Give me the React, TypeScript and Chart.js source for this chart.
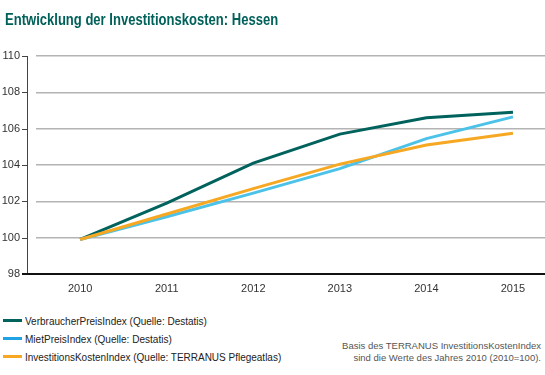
import React, { useEffect, useRef } from "react";
import { Chart, registerables } from "chart.js";

Chart.register(...registerables);

const years = [2010, 2011, 2012, 2013, 2014, 2015];
const vpi = [99.9, 101.9, 104.1, 105.7, 106.6, 106.9];
const miet = [99.9, 101.15, 102.45, 103.8, 105.45, 106.65];
const iki = [99.9, 101.3, 102.7, 104.05, 105.1, 105.75];
const yTicks = [98, 100, 102, 104, 106, 108, 110];
const seriesNames = [
  "VerbraucherPreisIndex (Quelle: Destatis)",
  "MietPreisIndex (Quelle: Destatis)",
  "InvestitionsKostenIndex (Quelle: TERRANUS Pflegeatlas)",
];
const lineColors = ["#00625C", "#4CC2E8", "#F6A823"];
const legendColors = ["#00625C", "#1FA3E3", "#F6A823"];
const FONT = "'Liberation Sans', Arial, sans-serif";

const axisPlugin = {
  id: "customAxes",
  afterDatasetsDraw(chart: any) {
    const ctx = chart.ctx;
    const y = chart.scales.y;
    const area = chart.chartArea;
    const axisX = area.left - 9;
    ctx.save();
    ctx.strokeStyle = "#444";
    ctx.lineWidth = 1;
    ctx.beginPath();
    ctx.moveTo(axisX + 0.5, y.getPixelForValue(110));
    ctx.lineTo(axisX + 0.5, y.getPixelForValue(98));
    yTicks.forEach((t) => {
      const py = Math.round(y.getPixelForValue(t)) + 0.5;
      ctx.moveTo(axisX - 5, py);
      ctx.lineTo(axisX + 0.5, py);
    });
    ctx.stroke();
    ctx.strokeStyle = "#111";
    ctx.lineWidth = 2;
    ctx.beginPath();
    const by = y.getPixelForValue(98);
    ctx.moveTo(axisX - 5, by);
    ctx.lineTo(chart.width, by);
    ctx.stroke();
    ctx.restore();
  },
};

function Fit(props: { w: number; style: any; origin: string; children: any }) {
  const r = useRef<HTMLSpanElement>(null);
  useEffect(() => {
    const el = r.current;
    if (!el) return;
    const w = el.offsetWidth;
    if (w > 0) el.style.transform = `scaleX(${props.w / w})`;
  }, []);
  return (
    <span
      ref={r}
      style={{
        display: "inline-block",
        whiteSpace: "nowrap",
        transformOrigin: props.origin,
        ...props.style,
      }}
    >
      {props.children}
    </span>
  );
}

export default function App() {
  const ref = useRef<HTMLCanvasElement>(null);
  useEffect(() => {
    const mk = (vals: number[]) => years.map((x, i) => ({ x, y: vals[i] }));
    const chart = new Chart(ref.current as HTMLCanvasElement, {
      type: "line",
      data: {
        datasets: [vpi, miet, iki].map((vals, i) => ({
          label: seriesNames[i],
          data: mk(vals),
          borderColor: lineColors[i],
          backgroundColor: lineColors[i],
          borderWidth: 3,
          pointRadius: 0,
          tension: 0,
          order: 3 - i,
        })),
      },
      options: {
        animation: false,
        responsive: false,
        layout: { padding: { top: 56, left: 0, right: 0, bottom: 0 } },
        plugins: { legend: { display: false }, tooltip: { enabled: false } },
        scales: {
          x: {
            type: "linear",
            min: 2009.49,
            max: 2015.37,
            afterFit: (s: any) => {
              s.height = 26;
            },
            afterBuildTicks: (s: any) => {
              s.ticks = years.map((v) => ({ value: v }));
            },
            grid: { display: false, drawTicks: false },
            border: { display: false },
            ticks: {
              padding: 8,
              color: "#333",
              font: { family: FONT, size: 11 },
              callback: (v: any) => String(v),
              maxRotation: 0,
            },
          },
          y: {
            min: 98,
            max: 110,
            afterFit: (s: any) => {
              s.width = 36;
            },
            afterBuildTicks: (s: any) => {
              s.ticks = yTicks.map((v) => ({ value: v }));
            },
            grid: {
              drawTicks: false,
              color: (c: any) => (c.tick && c.tick.value === 98 ? "rgba(0,0,0,0)" : "#B4B4B4"),
              lineWidth: 1.5,
            },
            border: { display: false },
            ticks: {
              padding: 16,
              color: "#333",
              font: { family: FONT, size: 11 },
            },
          },
        },
      },
      plugins: [axisPlugin],
    });
    return () => chart.destroy();
  }, []);

  const legendY = [320, 337.5, 356];
  const legendW = [182, 147, 256];
  return (
    <div
      style={{
        position: "fixed",
        left: 0,
        top: 0,
        width: 545,
        height: 375,
        background: "#fff",
        overflow: "hidden",
        fontFamily: FONT,
      }}
    >
      <canvas ref={ref} width={545} height={300} style={{ position: "absolute", left: 0, top: 0 }} />
      <div style={{ position: "absolute", left: 5, top: 10, lineHeight: "20px" }}>
        <Fit
          w={273}
          origin="left center"
          style={{ fontFamily: FONT, fontWeight: "bold", fontSize: 17, color: "#00605A" }}
        >
          Entwicklung der Investitionskosten: Hessen
        </Fit>
      </div>
      {seriesNames.map((name, i) => (
        <div key={name}>
          <div
            style={{
              position: "absolute",
              left: 3,
              top: legendY[i] - 1,
              width: 19,
              height: 3,
              background: legendColors[i],
            }}
          />
          <div style={{ position: "absolute", left: 25, top: legendY[i] - 7, lineHeight: "13px" }}>
            <Fit w={legendW[i]} origin="left center" style={{ fontSize: 11, color: "#222" }}>
              {name}
            </Fit>
          </div>
        </div>
      ))}
      <div
        style={{
          position: "absolute",
          right: 4,
          top: 340,
          fontSize: 9.5,
          lineHeight: "11.5px",
          color: "#555",
          textAlign: "right",
          whiteSpace: "nowrap",
        }}
      >
        Basis des TERRANUS InvestitionsKostenIndex
        <br />
        sind die Werte des Jahres 2010 (2010=100).
      </div>
    </div>
  );
}
